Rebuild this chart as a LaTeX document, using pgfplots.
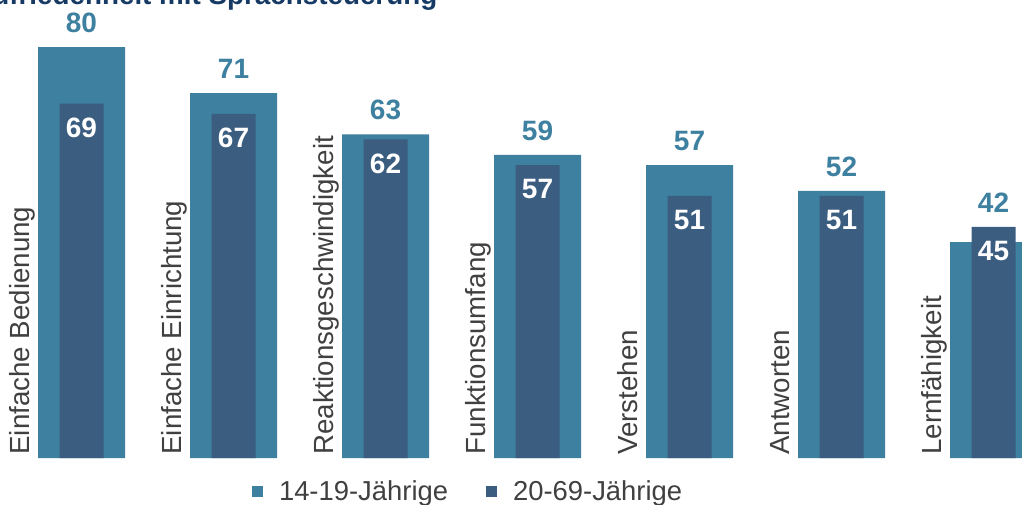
\documentclass[border=0pt]{standalone}
\usepackage{pgfplots}
\pgfplotsset{compat=1.18}
\usepackage{fontspec}
\setmainfont{Liberation Sans}
\definecolor{lb}{HTML}{3E80A0}
\definecolor{db}{HTML}{3B5D80}
\definecolor{tg}{HTML}{404040}
\definecolor{tt}{HTML}{173A64}
\begin{document}
\begin{tikzpicture}
\begin{axis}[
  at={(0,0)}, anchor=south west,
  width=511pt, height=229pt, scale only axis,
  xmin=-0.5362, xmax=6.1875, ymin=0, ymax=89.15,
  hide axis,
  ybar, bar shift=0pt,
  clip=false,
  /pgf/number format/assume math mode=true,
  legend columns=2,
  legend style={at={(axis description cs:0.459,-0.0742)}, anchor=center,
    draw=none, fill=none, inner sep=0pt, outer sep=0pt,
    font=\fontsize{13.7}{16}\selectfont, text=tg,
    cells={inner sep=0pt},
    /tikz/every odd column/.append style={column sep=6pt},
    /tikz/every even column/.append style={column sep=17pt}},
  legend image code/.code={\fill[#1] (0pt,-2.75pt) rectangle (5.5pt,2.75pt);},
]
\addplot[fill=lb, draw=none, bar width=43.5pt] coordinates {(0,80) (1,71) (2,63) (3,59) (4,57) (5,52) (6,42)};
\addplot[fill=db, draw=none, bar width=22pt, nodes near coords,
  nodes near coords style={anchor=north, yshift=-7pt, inner sep=0pt, text=white, font=\bfseries\fontsize{14}{16}\selectfont}]
  coordinates {(0,69) (1,67) (2,62) (3,57) (4,51) (5,51) (6,45)};
\addplot[draw=none, fill=none, bar width=1pt, forget plot, nodes near coords, point meta=explicit,
  nodes near coords style={anchor=south, yshift=7pt, inner sep=0pt, text=lb, font=\bfseries\fontsize{14}{16}\selectfont}]
  coordinates {(0,80)[80] (1,71)[71] (2,63)[63] (3,59)[59] (4,57)[57] (5,52)[52] (6,45)[42]};
\legend{14-19-Jährige,20-69-Jährige}
\begin{scope}[every node/.style={rotate=90, anchor=base west, inner sep=0pt, text=tg, font=\fontsize{13.85}{16}\selectfont}]
\node at (axis cs:-0.339,0.58) {Einfache Bedienung};
\node at (axis cs:0.661,0.58) {Einfache Einrichtung};
\node at (axis cs:1.661,0.58) {Reaktionsgeschwindigkeit};
\node at (axis cs:2.661,0.58) {Funktionsumfang};
\node at (axis cs:3.661,0.58) {Verstehen};
\node at (axis cs:4.661,0.58) {Antworten};
\node at (axis cs:5.661,0.58) {Lernfähigkeit};
\end{scope}
\end{axis}
\node[anchor=base west, inner sep=0pt, text=tt, font=\bfseries\fontsize{13.9}{16}\selectfont] at (-12.5pt,226.5pt) {Zufriedenheit mit Sprachsteuerung};
\pgfresetboundingbox
\useasboundingbox (0,-23pt) rectangle (511pt,229pt);
\end{tikzpicture}
\end{document}
